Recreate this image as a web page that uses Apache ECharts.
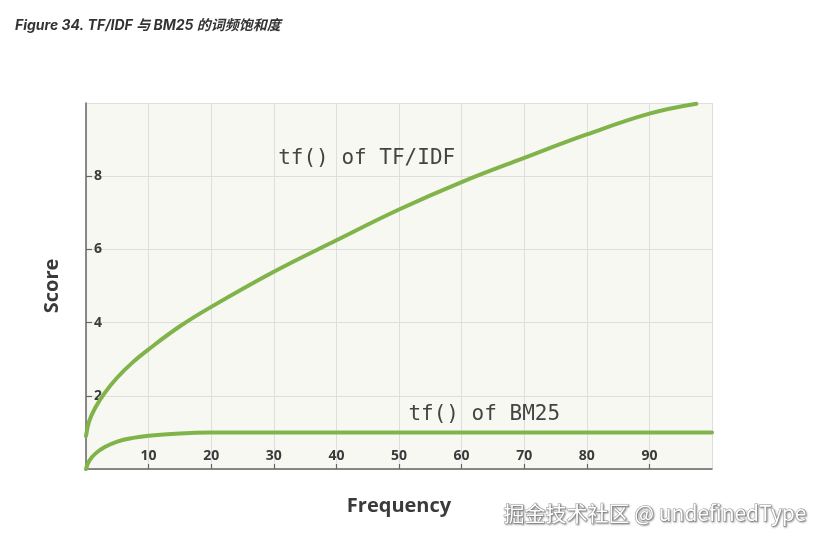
<!DOCTYPE html>
<html>
<head>
<meta charset="utf-8">
<script src="https://cdn.jsdelivr.net/npm/echarts@6/dist/echarts.min.js"></script>
<style>
html,body{margin:0;padding:0;background:#fff;}
#c{width:825px;height:544px;}
</style>
</head>
<body>
<div id="c"></div>
<script>
const titleText = 'Figure 34. TF/IDF 与 BM25 的词频饱和度';
const xAxisName = 'Frequency';
const yAxisName = 'Score';
const watermarkText = '掘金技术社区 @ undefinedType';

const tfidfFreq   = [0, 0.5, 1.5, 3, 5, 7.5, 10, 15, 20, 30, 40, 50, 60, 70, 80, 90, 97.5];
const tfidfScores = [0.9, 1.3, 1.68, 2.08, 2.5, 2.92, 3.27, 3.9, 4.43, 5.39, 6.25, 7.09, 7.84, 8.5, 9.14, 9.71, 9.98];

const bm25Freq   = [0, 0.5, 1.5, 3, 5, 7.5, 10, 15, 20, 30, 50, 100];
const bm25Scores = [0, 0.22, 0.42, 0.6, 0.75, 0.85, 0.91, 0.97, 0.995, 1.0, 1.0, 1.0];

const tfidfLabel = 'tf() of TF/IDF';
const bm25Label  = 'tf() of BM25';
const tfidfLabelAt = [30.7, 8.48];
const bm25LabelAt  = [51.5, 1.48];

const lineColor = '#80b34a';
const textColor = '#3a3a3a';

const chart = echarts.init(document.getElementById('c'), null, {renderer: 'canvas'});

function pairs(xs, ys){ return xs.map((x,i)=>[x, ys[i]]); }

const option = {
  backgroundColor: '#ffffff',
  animation: false,
  title: {
    text: titleText,
    left: 15, top: 19, padding: 0,
    textStyle: {fontFamily: 'Inter, "Noto Sans CJK SC", sans-serif', fontSize: 14, fontWeight: 'bold', fontStyle: 'italic', color: '#333'}
  },
  grid: {
    left: 86, right: 113, top: 103, bottom: 75,
    show: true, backgroundColor: '#f7f8f2', borderWidth: 0
  },
  xAxis: {
    type: 'value', min: 0, max: 100, interval: 10,
    name: xAxisName, nameLocation: 'middle', nameGap: 27,
    nameTextStyle: {fontFamily: '"Open Sans", sans-serif', fontSize: 20, fontWeight: 'bold', color: textColor},
    axisLine: {show: true, lineStyle: {color: '#666', width: 1.5}},
    axisTick: {show: true, inside: true, length: 5, lineStyle: {color: '#666', width: 1.2}},
    axisLabel: {inside: true, margin: 6, showMinLabel: false, showMaxLabel: false,
      fontFamily: '"Open Sans", sans-serif', fontSize: 14, fontWeight: 'bold', color: textColor},
    splitLine: {show: true, lineStyle: {color: '#dedede', width: 1}}
  },
  yAxis: {
    type: 'value', min: 0, max: 10, interval: 2,
    name: yAxisName, nameLocation: 'middle', nameGap: 24, nameRotate: 90,
    nameTextStyle: {fontFamily: '"Open Sans", sans-serif', fontSize: 20, fontWeight: 'bold', color: textColor},
    axisLine: {show: true, lineStyle: {color: '#666', width: 1.5}},
    axisTick: {show: true, inside: true, length: 6, lineStyle: {color: '#666', width: 1.2}},
    axisLabel: {inside: true, margin: 8, showMinLabel: false, showMaxLabel: false,
      fontFamily: '"Open Sans", sans-serif', fontSize: 14, fontWeight: 'bold', color: textColor},
    splitLine: {show: true, lineStyle: {color: '#dedede', width: 1}}
  },
  series: [
    {type: 'line', name: 'TF/IDF', data: pairs(tfidfFreq, tfidfScores), smooth: 0.4,
     showSymbol: false, lineStyle: {color: lineColor, width: 4, cap: 'round'}},
    {type: 'line', name: 'BM25', data: pairs(bm25Freq, bm25Scores), smooth: 0.4,
     showSymbol: false, lineStyle: {color: lineColor, width: 4, cap: 'round'}}
  ]
};
chart.setOption(option);

const p1 = chart.convertToPixel({gridIndex: 0}, tfidfLabelAt);
const p2 = chart.convertToPixel({gridIndex: 0}, bm25LabelAt);
const monoStyle = {fontFamily: '"DejaVu Sans Mono", monospace', fontSize: 21, fill: '#444', verticalAlign: 'middle', align: 'left'};
chart.setOption({
  graphic: [
    {type: 'text', x: p1[0], y: p1[1], style: Object.assign({text: tfidfLabel}, monoStyle)},
    {type: 'text', x: p2[0], y: p2[1], style: Object.assign({text: bm25Label}, monoStyle)},
    {type: 'text', right: 18, top: 502, style: {text: watermarkText, fontFamily: '"Noto Sans CJK SC", "Open Sans", sans-serif', fontSize: 21,
      fill: '#ffffff', stroke: '#9a9a9a', lineWidth: 1, textShadowColor: 'rgba(0,0,0,0.35)', textShadowBlur: 2, textShadowOffsetX: 1, textShadowOffsetY: 1}}
  ]
});
</script>
</body>
</html>
